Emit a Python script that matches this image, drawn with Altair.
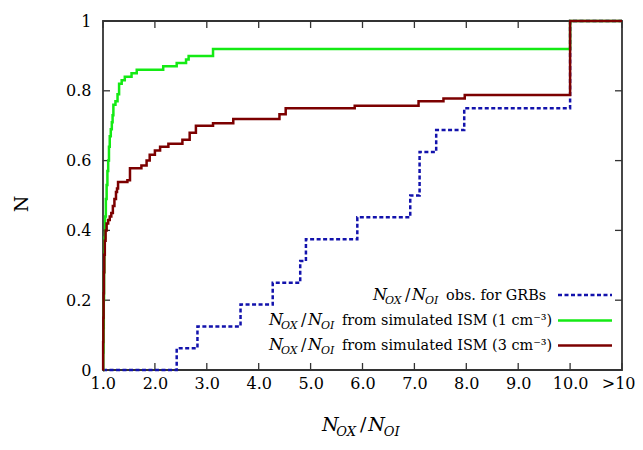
import altair as alt
import pandas as pd

# ---------------- data ----------------
x_ticks = [1, 2, 3, 4, 5, 6, 7, 8, 9, 10, 11]
y_ticks = [0.0, 0.2, 0.4, 0.6, 0.8, 1.0]

grb_x = [1.0, 2.42, 2.82, 3.65, 4.27, 4.80, 4.91, 5.90, 6.92, 7.10, 7.42, 7.96, 10.0, 11.0]
grb_y = [0.0, 0.0625, 0.125, 0.1875, 0.25, 0.3125, 0.375, 0.4375, 0.5, 0.625, 0.6875, 0.75, 1.0, 1.0]

ism1_x = [1.0, 1.005, 1.01, 1.015, 1.02, 1.025, 1.03, 1.04, 1.055, 1.07, 1.085, 1.10, 1.115,
          1.13, 1.15, 1.17, 1.185, 1.20, 1.24, 1.28, 1.31, 1.36, 1.42, 1.55, 1.65, 2.16,
          2.42, 2.60, 2.65, 3.12, 10.0, 11.0]
ism1_y = [0.0, 0.05, 0.12, 0.20, 0.28, 0.34, 0.38, 0.44, 0.49, 0.53, 0.57, 0.60, 0.64,
          0.67, 0.69, 0.71, 0.73, 0.76, 0.77, 0.79, 0.82, 0.83, 0.84, 0.85, 0.86, 0.87,
          0.88, 0.89, 0.90, 0.92, 1.0, 1.0]

ism3_x = [1.0, 1.003, 1.007, 1.012, 1.018, 1.025, 1.035, 1.05, 1.07, 1.10, 1.13, 1.16,
          1.19, 1.22, 1.25, 1.27, 1.29, 1.47, 1.52, 1.74, 1.84, 1.90, 2.0, 2.10, 2.26,
          2.53, 2.67, 2.79, 3.12, 3.51, 4.40, 4.52, 5.85, 7.08, 7.56, 7.97, 10.0, 11.0]
ism3_y = [0.0, 0.08, 0.15, 0.22, 0.28, 0.33, 0.37, 0.40, 0.42, 0.43, 0.44, 0.45,
          0.47, 0.49, 0.51, 0.52, 0.539, 0.544, 0.578, 0.586, 0.60, 0.617, 0.629, 0.64, 0.648,
          0.66, 0.68, 0.70, 0.707, 0.719, 0.733, 0.75, 0.757, 0.77, 0.778, 0.788, 1.0, 1.0]

legend_rest = ["obs. for GRBs",
               "from simulated ISM (1 cm\u207b\u00b3)",
               "from simulated ISM (3 cm\u207b\u00b3)"]

# ---------------- styling ----------------
W, H = 519, 349
BLUE, GREEN, RED = "#1212ac", "#14ea14", "#7c0000"
FRAME = "#333333"
SERIF = "DejaVu Serif"

xs = alt.Scale(domain=[1, 11], nice=False, zero=False)
ys = alt.Scale(domain=[0, 1], nice=False, zero=False)

xaxis = alt.Axis(values=x_ticks, ticks=False, domain=False, grid=False, title=None,
                 labelExpr="datum.value == 11 ? '>10' : format(datum.value, '.1f')",
                 labelFont=SERIF, labelFontSize=16, labelColor="black",
                 labelPadding=5, labelFlush=True, labelFlushOffset=13, labelOverlap=False)
yaxis = alt.Axis(values=y_ticks, ticks=False, domain=False, grid=False, title=None,
                 labelExpr="datum.value == 0 ? '0' : (datum.value == 1 ? '1' : format(datum.value, '.1f'))",
                 labelFont=SERIF, labelFontSize=16, labelColor="black",
                 labelPadding=12, labelFlush=False, labelOverlap=False)

X = alt.X("x:Q", scale=xs, axis=xaxis)
Y = alt.Y("y:Q", scale=ys, axis=yaxis)


def series(xv, yv, color, dash=None):
    df = pd.DataFrame({"x": xv, "y": yv})
    kw = dict(interpolate="step-after", color=color, strokeWidth=2.5, clip=False)
    if dash:
        kw["strokeDash"] = dash
    return alt.Chart(df).mark_line(**kw).encode(x=X, y=Y)


dummy = pd.DataFrame({"d": [0]})


def txt(s, x, y, size, style="normal", align="left", angle=0, baseline="alphabetic"):
    return alt.Chart(dummy).mark_text(
        text=s, font=SERIF, fontSize=size, fontStyle=style, align=align,
        baseline=baseline, color="black", angle=angle
    ).encode(x=alt.value(x), y=alt.value(y))


def ratio(x0, yb, s):
    k = s / 16.0
    big, small, drop = 16 * k, 11 * k, 4 * k
    return [
        txt("N", x0, yb, big, "italic"),
        txt("OX", x0 + 12 * k, yb + drop, small, "italic"),
        txt("/", x0 + 32 * k, yb, big),
        txt("N", x0 + 39 * k, yb, big, "italic"),
        txt("OI", x0 + 52 * k, yb + drop, small, "italic"),
    ]


def sym(y, color, dash=None):
    kw = dict(color=color, strokeWidth=2.5)
    if dash:
        kw["strokeDash"] = dash
    return alt.Chart(dummy).mark_rule(**kw).encode(
        x=alt.value(455), x2=alt.value(509), y=alt.value(y))


# inward ticks on all four sides
xt = pd.DataFrame({"x": x_ticks})
yt = pd.DataFrame({"y": y_ticks})
tick_kw = dict(color=FRAME, strokeWidth=1.3)
ticks = [
    alt.Chart(xt).mark_rule(**tick_kw).encode(x=X, y=alt.value(H), y2=alt.value(H - 7)),
    alt.Chart(xt).mark_rule(**tick_kw).encode(x=X, y=alt.value(0), y2=alt.value(7)),
    alt.Chart(yt).mark_rule(**tick_kw).encode(y=Y, x=alt.value(0), x2=alt.value(7)),
    alt.Chart(yt).mark_rule(**tick_kw).encode(y=Y, x=alt.value(W), x2=alt.value(W - 7)),
]

lines = [
    series(grb_x, grb_y, BLUE, [4, 2.5]),
    series(ism1_x, ism1_y, GREEN),
    series(ism3_x, ism3_y, RED),
]

legend = []
legend += ratio(270, 279, 16) + [txt(legend_rest[0], 343, 279, 14.4)]
legend += ratio(166, 304, 16) + [txt(legend_rest[1], 239, 304, 14.4)]
legend += ratio(166, 329, 16) + [txt(legend_rest[2], 239, 329, 14.4)]
legend += [sym(274, BLUE, [4, 2.5]), sym(299.5, GREEN), sym(324.5, RED)]

titles = ratio(219, 410, 19) + [txt("N", -81, 183, 19, angle=270, align="center", baseline="middle")]

chart = alt.layer(*ticks, *lines, *legend, *titles).properties(
    width=W, height=H,
    autosize=alt.AutoSizeParams(type="none"),
    padding={"left": 95, "top": 13, "right": 13, "bottom": 68},
    background="white",
).configure_view(stroke=FRAME, strokeWidth=1.8)

chart.save("out.html", embed_options={"renderer": "svg", "actions": False})
